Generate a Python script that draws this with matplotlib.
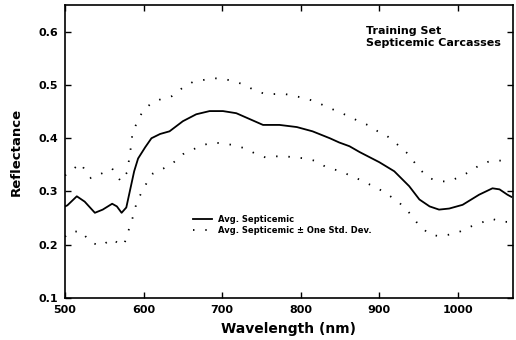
import matplotlib
matplotlib.use("Agg")
import matplotlib.pyplot as plt

# average reflectance of septicemic carcasses
wl_mean = [500, 503, 515, 525, 538, 548, 560, 566, 572, 578, 583, 588, 593, 602, 610,
           621, 633, 650, 667, 684, 701, 718, 735, 752, 773, 795, 815, 837, 849, 862,
           875, 900, 919, 938, 951, 964, 976, 989, 1006, 1027, 1044, 1053, 1063, 1068]
mean = [0.272, 0.274, 0.291, 0.281, 0.260, 0.266, 0.277, 0.272, 0.260, 0.270, 0.304,
        0.338, 0.362, 0.383, 0.400, 0.408, 0.413, 0.432, 0.445, 0.451, 0.451, 0.447,
        0.436, 0.425, 0.425, 0.421, 0.413, 0.400, 0.392, 0.385, 0.374, 0.355, 0.338,
        0.310, 0.285, 0.272, 0.266, 0.268, 0.275, 0.294, 0.306, 0.304, 0.294, 0.290]

# mean + one std. dev.
wl_up = [500, 505, 520, 527, 533, 550, 560, 571, 579, 583, 586, 593, 599, 610, 623,
         636, 649, 663, 675, 688, 702, 713, 729, 741, 755, 767, 780, 793, 806, 820,
         833, 846, 860, 871, 885, 898, 910, 924, 937, 951, 964, 976, 989, 1003, 1016,
         1029, 1043, 1055, 1068]
up = [0.330, 0.336, 0.353, 0.336, 0.325, 0.336, 0.343, 0.319, 0.336, 0.374, 0.411,
      0.434, 0.451, 0.466, 0.474, 0.479, 0.494, 0.506, 0.509, 0.513, 0.511, 0.508,
      0.500, 0.490, 0.483, 0.483, 0.483, 0.479, 0.475, 0.468, 0.459, 0.451, 0.442,
      0.434, 0.425, 0.413, 0.404, 0.387, 0.370, 0.342, 0.325, 0.319, 0.319, 0.328,
      0.338, 0.351, 0.358, 0.358, 0.356]

# mean - one std. dev.
wl_lo = [500, 505, 520, 533, 546, 560, 572, 576, 580, 584, 588, 591, 598, 605, 612,
         625, 637, 650, 663, 675, 689, 702, 715, 729, 741, 755, 767, 780, 793, 806,
         820, 833, 846, 860, 871, 885, 898, 912, 924, 937, 947, 963, 976, 989, 1003,
         1016, 1029, 1043, 1055, 1068]
lo = [0.215, 0.223, 0.226, 0.204, 0.198, 0.211, 0.198, 0.204, 0.223, 0.241, 0.260,
      0.279, 0.300, 0.319, 0.334, 0.343, 0.353, 0.370, 0.379, 0.387, 0.392, 0.390,
      0.387, 0.381, 0.372, 0.364, 0.366, 0.366, 0.364, 0.362, 0.357, 0.345, 0.340,
      0.332, 0.325, 0.315, 0.306, 0.293, 0.281, 0.262, 0.243, 0.220, 0.216, 0.219,
      0.225, 0.234, 0.241, 0.249, 0.243, 0.243]

x_ticks = [500, 600, 700, 800, 900, 1000]
y_ticks = [0.1, 0.2, 0.3, 0.4, 0.5, 0.6]

plt.rcParams["font.family"] = "DejaVu Sans"
fig = plt.figure(figsize=(5.16, 3.4), dpi=100)
ax = fig.add_axes([0.126, 0.1235, 0.868, 0.8615])

ax.plot(wl_mean, mean, color="black", linewidth=1.3, label="Avg. Septicemic")
ax.plot(wl_up, up, color="black", linewidth=1.3, linestyle=(0, (0.8, 6)),
        label="Avg. Septicemic \u00b1 One Std. Dev.")
ax.plot(wl_lo, lo, color="black", linewidth=1.3, linestyle=(0, (0.8, 6)))

ax.set_xlim(500, 1070)
ax.set_ylim(0.1, 0.65)
ax.set_xticks(x_ticks)
ax.set_yticks(y_ticks)
ax.set_xticklabels([str(v) for v in x_ticks], fontsize=8, fontweight="bold")
ax.set_yticklabels(["%.1f" % v for v in y_ticks], fontsize=8, fontweight="bold")
ax.tick_params(direction="in", length=4, width=1, top=True, right=True, pad=5)
for s in ax.spines.values():
    s.set_linewidth(1.2)

ax.set_xlabel("Wavelength (nm)", fontsize=10, fontweight="bold", labelpad=5)
ax.set_ylabel("Reflectance", fontsize=9.5, fontweight="bold", labelpad=11)

ax.text(0.672, 0.93, "Training Set\nSepticemic Carcasses", transform=ax.transAxes,
        fontsize=8, fontweight="bold", va="top", ha="left", linespacing=1.3)

ax.legend(loc="upper left", bbox_to_anchor=(0.27, 0.31), frameon=False,
          prop={"size": 6, "weight": "bold"}, handlelength=2.2, handletextpad=0.8,
          labelspacing=0.3)

fig.savefig("out.png", dpi=100)
